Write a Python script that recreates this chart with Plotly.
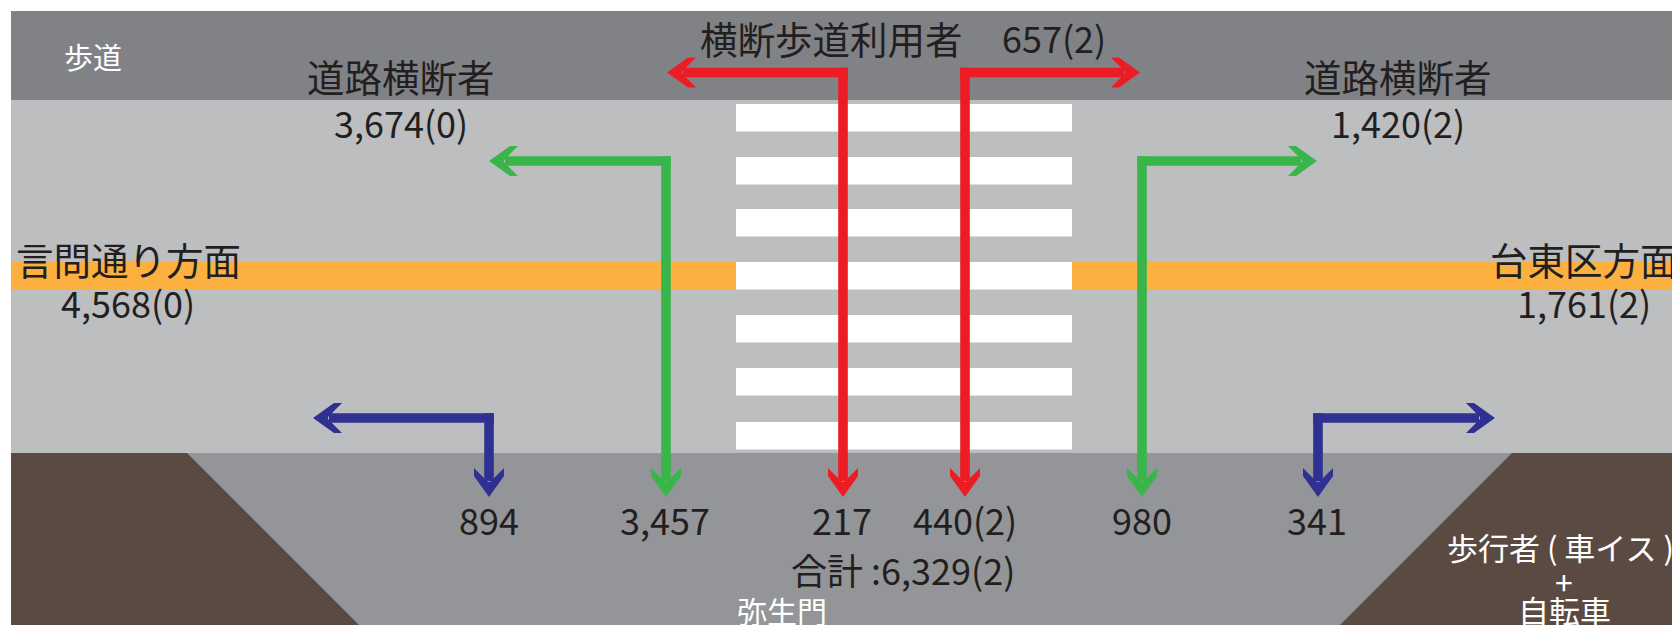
import plotly.graph_objects as go

# ---------------- data ----------------
direction_names = ["言問通り方面", "台東区方面"]
direction_counts = ["4,568(0)", "1,761(2)"]
crossing_names = ["道路横断者", "道路横断者"]
crossing_counts = ["3,674(0)", "1,420(2)"]
crosswalk_name = "横断歩道利用者"
crosswalk_count = "657(2)"
gate_flows = ["894", "3,457", "217", "440(2)", "980", "341"]
total_label = "合計 :6,329(2)"
place_labels = ["歩道", "弥生門"]
mode_label = ["歩行者 ( 車イス )", "+", "自転車"]

# ---------------- layout constants ----------------
W, H = 1672, 625
FONT = "Noto Sans CJK JP"
DARK = "#231f20"
C_TOP = "#808285"
C_ROAD = "#bcbec0"
C_BOTTOM = "#939598"
C_BROWN = "#5a4a42"
C_ORANGE = "#fbb040"
C_RED = "#ed1c24"
C_GREEN = "#39b54a"
C_BLUE = "#2e3192"

shapes = []


def rect(x0, y0, x1, y1, color):
    shapes.append(dict(type="rect", xref="x", yref="y", x0=x0, y0=y0, x1=x1, y1=y1,
                       fillcolor=color, line=dict(width=0), layer="below"))


def poly(pts, color):
    path = "M " + " L ".join(f"{x},{y}" for x, y in pts) + " Z"
    shapes.append(dict(type="path", xref="x", yref="y", path=path,
                       fillcolor=color, line=dict(width=0), layer="below"))


# background regions
rect(11, 11, W, 100, C_TOP)
rect(11, 100, W, 453, C_ROAD)
rect(11, 453, W, H, C_BOTTOM)
poly([(11, 453), (187, 453), (359, H), (11, H)], C_BROWN)
poly([(1512, 453), (W, 453), (W, H), (1340, H)], C_BROWN)

# center line
rect(11, 262, 736, 290, C_ORANGE)
rect(1072, 262, W, 290, C_ORANGE)

# crosswalk stripes
stripe_tops = [104, 157, 209, 262, 315, 368, 422]
for t in stripe_tops:
    rect(736, t, 1072, t + 27.5, "white")

# arrows
SW = 4.8   # half shaft width
HL = 29    # head length
HW = 15    # head half width


def head(tip, d, color):
    tx, ty = tip
    dx, dy = d
    px, py = -dy, dx

    def pt(a, b):
        return (tx + a * dx + b * px, ty + a * dy + b * py)
    poly([pt(0, 0), pt(-21, HW), pt(-HL, HW), pt(-15, 1), pt(-15, -1),
          pt(-HL, -HW), pt(-21, -HW)], color)


def arrow(x_end, y_h, x_v, y_bottom, color):
    sgn = 1 if x_end > x_v else -1
    xa = x_v - sgn * SW
    xb = x_end - sgn * 16
    rect(min(xa, xb), y_h - SW, max(xa, xb), y_h + SW, color)
    rect(x_v - SW, y_h - SW, x_v + SW, y_bottom - 16, color)
    head((x_end, y_h), (sgn, 0), color)
    head((x_v, y_bottom), (0, 1), color)


arrow(667, 72.5, 843, 497, C_RED)
arrow(1140, 72.5, 965, 497, C_RED)
arrow(489, 161, 666, 497, C_GREEN)
arrow(1317, 161, 1142, 497, C_GREEN)
arrow(313, 418, 489, 497, C_BLUE)
arrow(1495, 418, 1318, 497, C_BLUE)

# ---------------- text ----------------
annotations = []


def text(x, y, s, size=36, color=DARK):
    annotations.append(dict(x=x, y=y, xref="x", yref="y", text=s, showarrow=False,
                            xanchor="center", yanchor="middle",
                            font=dict(family=FONT, size=size, color=color)))


CJK = 37.5
text(93, 56, place_labels[0], size=29, color="white")
annotations.append(dict(x=965, y=37, xref="x", yref="y", text=crosswalk_name, showarrow=False,
                        xanchor="right", yanchor="middle",
                        font=dict(family=FONT, size=CJK, color=DARK)))
annotations.append(dict(x=1000, y=37, xref="x", yref="y", text=crosswalk_count, showarrow=False,
                        xanchor="left", yanchor="middle",
                        font=dict(family=FONT, size=36, color=DARK)))
text(401, 75, crossing_names[0], size=CJK)
text(401, 122, crossing_counts[0])
text(1398, 75, crossing_names[1], size=CJK)
text(1398, 122, crossing_counts[1])
text(128, 258, direction_names[0], size=CJK)
text(128, 302, direction_counts[0])
text(1584, 258, direction_names[1], size=CJK)
text(1584, 302, direction_counts[1])

gate_x = [489, 665, 842, 965, 1142, 1317]
for gx, v in zip(gate_x, gate_flows):
    text(gx, 519, v)
text(903, 569, total_label)
text(782, 610, place_labels[1], size=30, color="white")
text(1560, 546, mode_label[0], size=31, color="white")
text(1564, 581, mode_label[1], size=32, color="white")
text(1564, 609, mode_label[2], size=31, color="white")

fig = go.Figure()
fig.update_layout(
    width=W, height=H,
    margin=dict(l=0, r=0, t=0, b=0),
    paper_bgcolor="white", plot_bgcolor="white",
    xaxis=dict(range=[0, W], visible=False, fixedrange=True),
    yaxis=dict(range=[H, 0], visible=False, fixedrange=True),
    shapes=shapes, annotations=annotations, showlegend=False,
)
fig.write_html("out.html", config={"displayModeBar": False},
               post_script="document.body.style.margin='0';document.body.style.overflow='hidden';")
